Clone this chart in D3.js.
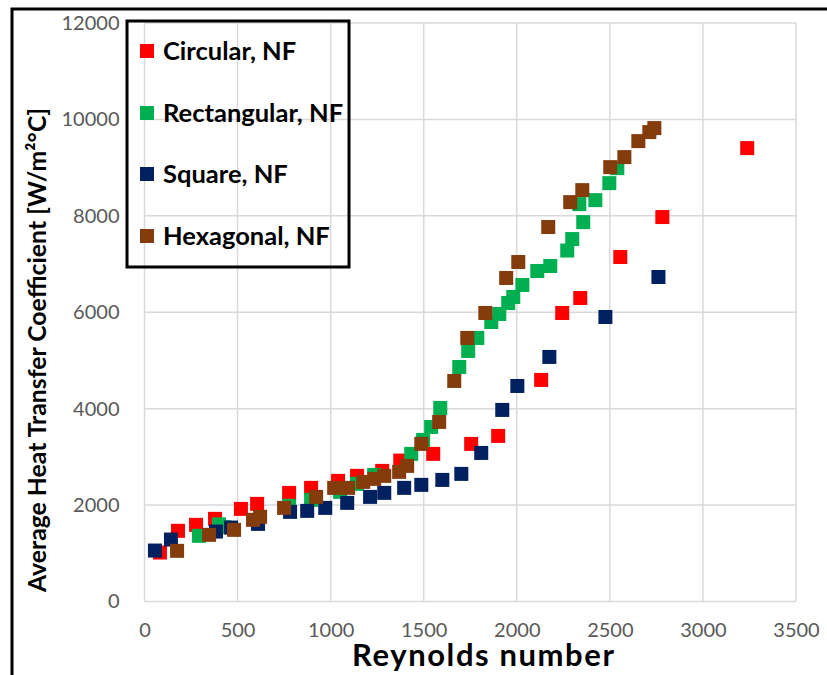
<!DOCTYPE html>
<html><head><meta charset="utf-8">
<script src="https://cdn.jsdelivr.net/npm/d3@7"></script>
<style>html,body{margin:0;padding:0;background:#fff;}svg{display:block;}</style>
</head><body>
<svg id="chart" width="827" height="675"></svg>
<script>
const seriesNames = ["Circular, NF", "Rectangular, NF", "Square, NF", "Hexagonal, NF"];
const seriesColors = ["#FF0000", "#00B050", "#002060", "#843C0C"];
const circular = [[83,1016],[180,1466],[277,1590],[379,1714],[518,1921],[605,2025],[777,2253],[895,2357],[1040,2502],[1142,2606],[1277,2709],[1374,2923],[1551,3062],[1755,3269],[1900,3435],[2131,4596],[2244,5985],[2341,6296],[2556,7146],[2782,7975],[3238,9405]];
const rectangular = [[293,1362],[400,1600],[430,1540],[777,1984],[895,2108],[1051,2274],[1142,2440],[1234,2626],[1433,3062],[1497,3352],[1540,3621],[1589,4015],[1691,4865],[1739,5197],[1788,5467],[1863,5798],[1906,5964],[1954,6192],[1981,6317],[2030,6566],[2110,6856],[2180,6959],[2271,7280],[2298,7518],[2357,7870],[2336,8243],[2422,8326],[2497,8678],[2540,8989]];
const square = [[56,1057],[142,1285],[384,1451],[465,1534],[610,1610],[782,1859],[874,1880],[971,1942],[1089,2046],[1212,2170],[1288,2253],[1395,2357],[1487,2419],[1600,2522],[1702,2647],[1809,3082],[1922,3974],[2003,4471],[2175,5073],[2476,5902],[2761,6731]];
const hexagonal = [[175,1051],[347,1383],[481,1486],[583,1694],[621,1756],[750,1942],[922,2170],[1019,2357],[1094,2357],[1175,2481],[1234,2543],[1288,2606],[1368,2689],[1411,2813],[1487,3269],[1583,3725],[1664,4575],[1734,5467],[1831,5985],[1943,6711],[2008,7042],[2169,7768],[2287,8284],[2352,8533],[2502,9010],[2578,9218],[2653,9550],[2712,9737],[2739,9820]];
const xTicks = [0,500,1000,1500,2000,2500,3000,3500];
const yTicks = [0,2000,4000,6000,8000,10000,12000];
const xTitle = "Reynolds number";
const yTitle = "Average Heat Transfer Coefficient [W/m\u00B2\u00B0C]";

const allSeries = [circular, rectangular, square, hexagonal];
const svg = d3.select("#chart");
const W = 827, H = 675;
const m = {left:144.5, right:796, top:23, bottom:601.5};
const x = d3.scaleLinear().domain([0,3500]).range([m.left, m.right]);
const y = d3.scaleLinear().domain([0,12000]).range([m.bottom, m.top]);

svg.append("rect").attr("width",W).attr("height",H).attr("fill","#fff");

// gridlines
const grid = svg.append("g");
grid.selectAll("line.v").data(xTicks).join("line")
  .attr("x1",d=>x(d)).attr("x2",d=>x(d)).attr("y1",m.top).attr("y2",m.bottom)
  .attr("stroke","#d9d9d9").attr("stroke-width",1.5);
grid.selectAll("line.h").data(yTicks).join("line")
  .attr("x1",m.left).attr("x2",m.right).attr("y1",d=>y(d)).attr("y2",d=>y(d))
  .attr("stroke","#d9d9d9").attr("stroke-width",1.5);

// axes (labels only)
const font = "Lato, 'Open Sans', sans-serif";
const xAxis = svg.append("g").attr("transform",`translate(0,${m.bottom})`)
  .call(d3.axisBottom(x).tickValues(xTicks).tickSize(0).tickPadding(21).tickFormat(d3.format("d")));
const yAxis = svg.append("g").attr("transform",`translate(${m.left},0)`)
  .call(d3.axisLeft(y).tickValues(yTicks).tickSize(0).tickPadding(25).tickFormat(d3.format("d")));
[xAxis,yAxis].forEach(a=>{
  a.select(".domain").remove();
  a.selectAll("text").attr("font-family",font).attr("font-size",20).attr("fill","#595959");
});

// points
const marker = 14;
allSeries.forEach((s,i)=>{
  svg.append("g").selectAll("rect").data(s).join("rect")
    .attr("x",d=>x(d[0])-marker/2).attr("y",d=>y(d[1])-marker/2)
    .attr("width",marker).attr("height",marker).attr("fill",seriesColors[i]);
});

// titles
svg.append("text").attr("x",483).attr("y",666).attr("text-anchor","middle")
  .attr("font-family",font).attr("font-weight","bold").attr("font-size",31).attr("fill","#000")
  .attr("textLength",262).attr("lengthAdjust","spacing")
  .text(xTitle);
svg.append("text").attr("transform","translate(45.5,350) rotate(-90)").attr("text-anchor","middle")
  .attr("font-family",font).attr("font-weight","bold").attr("font-size",24.8).attr("fill","#000")
  .text(yTitle);

// legend
const lg = svg.append("g");
lg.append("rect").attr("x",127).attr("y",21).attr("width",222).attr("height",246)
  .attr("fill","none").attr("stroke","#000").attr("stroke-width",3);
const ly = [51,113,174,236];
seriesNames.forEach((n,i)=>{
  lg.append("rect").attr("x",140).attr("y",ly[i]-7).attr("width",14).attr("height",14).attr("fill",seriesColors[i]);
  lg.append("text").attr("x",163).attr("y",ly[i]+9).attr("font-family",font).attr("font-weight","bold")
    .attr("font-size",25.5).attr("fill","#000").text(n);
});

// outer border
svg.append("path").attr("d",`M12,${H} V9 H${W}`).attr("fill","none").attr("stroke","#000").attr("stroke-width",3);
</script>
</body></html>
